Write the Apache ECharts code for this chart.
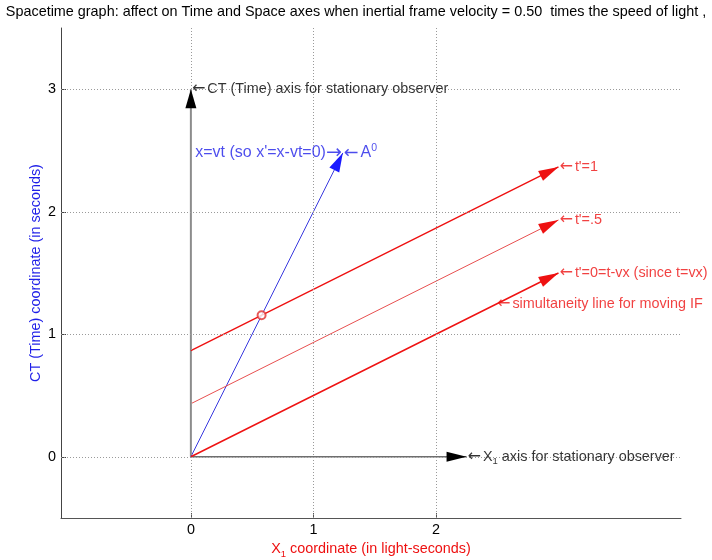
<!DOCTYPE html>
<html>
<head>
<meta charset="utf-8">
<script src="https://cdn.jsdelivr.net/npm/echarts@6/dist/echarts.min.js"></script>
<style>html,body{margin:0;padding:0;background:#fff}#c{width:712px;height:560px}</style>
</head>
<body>
<div id="c"></div>
<script>
// ---- data ----
const xTicks = [0, 1, 2];
const yTicks = [0, 1, 2, 3];
const ctAxis = [[0, 0], [0, 3]];            // stationary time axis
const x1Axis = [[0, 0], [2.25, 0]];         // stationary space axis
const worldline = [[0, 0], [1.24, 2.48]];   // x = vt
const tPrime0 = [[0, 0], [3, 1.5]];
const tPrimeHalf = [[0, 0.433], [3, 1.933]];
const tPrime1 = [[0, 0.866], [3, 2.366]];
const intersection = [[0.577, 1.155]];
const simulAnchor = [[2.49, 1.245]];

const FONT = '"Liberation Sans", Arial, sans-serif';
const AFONT = '"DejaVu Sans", sans-serif';
const FS = 14.4;
const BLUE = '#1f1fe8';
const RED = '#ee1111';

function richFor(color, fs) {
  fs = fs || FS;
  return {
    t: { color: color, fontSize: fs, fontFamily: FONT },
    ar: { color: color, fontSize: fs + 1.6, fontFamily: AFONT, padding: [0, 2, 0, 0] },
    arR: { color: color, fontSize: fs + 3, fontFamily: AFONT },
    sub: { color: color, fontSize: 9.5, fontFamily: FONT, verticalAlign: 'bottom', padding: [9, 0, 0, 0] },
    sup: { color: color, fontSize: 10.5, fontFamily: FONT, verticalAlign: 'top', padding: [0, 0, 9, 0] }
  };
}

function arrowSeries(pts, stemColor, stemWidth, headColor, headW, headH) {
  return {
    type: 'line', data: pts, symbol: 'none', silent: true, z: 3,
    lineStyle: { color: stemColor, width: stemWidth },
    markLine: {
      silent: true, animation: false,
      symbol: ['none', 'triangle'],
      symbolSize: [headW, headH],
      symbolOffset: [0, [0, headH / 2]],
      lineStyle: { color: headColor, width: 0, type: 'solid' },
      label: { show: false },
      emphasis: { disabled: true },
      data: [[{ coord: pts[0] }, { coord: pts[1] }]]
    }
  };
}

function textSeries(pt, text, color, position, fs) {
  return {
    type: 'scatter', data: [pt], symbolSize: 0, silent: true, z: 5,
    label: {
      show: true, position: position, distance: 1,
      formatter: text, color: color, fontFamily: FONT, fontSize: fs || FS,
      rich: richFor(color, fs)
    }
  };
}

const gridLines = xTicks.map(v => ({ xAxis: v })).concat(yTicks.map(v => ({ yAxis: v })));

const chart = echarts.init(document.getElementById('c'), null, { renderer: 'canvas' });
chart.setOption({
  animation: false,
  backgroundColor: '#fff',
  textStyle: { fontFamily: FONT },
  title: {
    text: 'Spacetime graph: affect on Time and Space axes when inertial frame velocity = 0.50  times the speed of light ,',
    left: 'center', top: 0,
    textStyle: { fontFamily: FONT, fontSize: 14.4, fontWeight: 'normal', color: '#000' }
  },
  grid: { left: 61, right: 31, top: 28, bottom: 42, containLabel: false, outerBoundsMode: 'none' },
  xAxis: {
    type: 'value', min: -1.06, max: 4,
    name: '{t|X}{sub|1}{t| coordinate (in light-seconds)}',
    nameLocation: 'middle', nameGap: 22, nameMoveOverlap: false,
    nameTextStyle: { color: RED, fontFamily: FONT, fontSize: FS, rich: richFor(RED) },
    axisLine: { show: true, onZero: false, lineStyle: { color: '#555', width: 1 } },
    axisTick: { show: true, inside: true, length: 5, customValues: xTicks, lineStyle: { color: '#555' } },
    axisLabel: { customValues: xTicks, color: '#000', fontFamily: FONT, fontSize: FS, margin: 5 },
    splitLine: { show: false }
  },
  yAxis: {
    type: 'value', min: -0.5, max: 3.5,
    name: 'CT (Time) coordinate (in seconds)',
    nameLocation: 'middle', nameGap: 18, nameRotate: 90, nameMoveOverlap: false,
    nameTextStyle: { color: BLUE, fontFamily: FONT, fontSize: FS },
    axisLine: { show: true, onZero: false, lineStyle: { color: '#444', width: 1 } },
    axisTick: { show: true, inside: true, length: 5, customValues: yTicks, lineStyle: { color: '#444' } },
    axisLabel: { customValues: yTicks, color: '#000', fontFamily: FONT, fontSize: FS, margin: 5 },
    splitLine: { show: false }
  },
  series: [
    {
      type: 'line', data: [], silent: true, z: 1,
      markLine: {
        silent: true, animation: false, symbol: 'none',
        label: { show: false }, emphasis: { disabled: true },
        lineStyle: { color: '#9a9a9a', width: 1, type: [1, 2] },
        data: gridLines
      }
    },
    arrowSeries(ctAxis, '#8c8c8c', 2, '#000', 11, 19),
    arrowSeries(x1Axis, '#6e6e6e', 1.5, '#000', 10, 20),
    arrowSeries(worldline, '#3a3ae0', 1, '#1a1aff', 11, 19),
    arrowSeries(tPrime0, RED, 1.4, RED, 11, 20),
    arrowSeries(tPrimeHalf, '#e85050', 1, RED, 11, 20),
    arrowSeries(tPrime1, RED, 1.4, RED, 11, 20),
    {
      type: 'scatter', data: intersection, symbol: 'emptyCircle', symbolSize: 8, silent: true, z: 6,
      itemStyle: { color: '#e03030', borderColor: '#e03030', borderWidth: 1 }
    },
    textSeries(ctAxis[1], '{ar|←}{t|CT (Time) axis for stationary observer}', '#000', 'right'),
    textSeries(x1Axis[1], '{ar|←}{t|X}{sub|1}{t| axis for stationary observer}', '#000', 'right'),
    textSeries(worldline[1], "{t|x=vt (so x'=x-vt=0)}{arR|→}", BLUE, 'left', 16),
    textSeries(worldline[1], '{ar|←}{t|A}{sup|0}', BLUE, 'right', 16),
    textSeries(tPrime1[1], "{ar|←}{t|t'=1}", RED, 'right'),
    textSeries(tPrimeHalf[1], "{ar|←}{t|t'=.5}", RED, 'right'),
    textSeries(tPrime0[1], "{ar|←}{t|t'=0=t-vx (since t=vx)}", RED, 'right'),
    textSeries(simulAnchor[0], '{ar|←}{t|simultaneity line for moving IF}', RED, 'right')
  ]
});
</script>
</body>
</html>
